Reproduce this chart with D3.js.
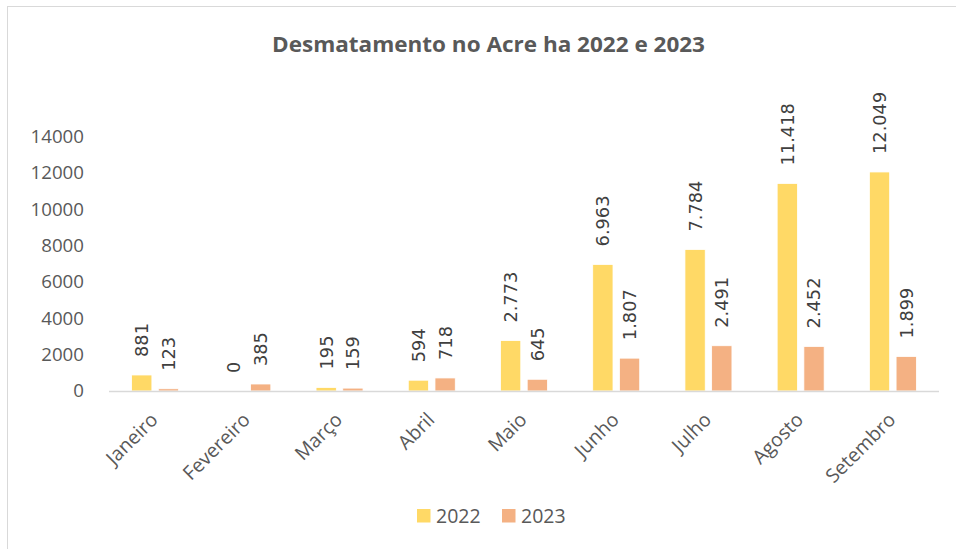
<!DOCTYPE html>
<html>
<head>
<meta charset="utf-8">
<script src="https://cdn.jsdelivr.net/npm/d3@7"></script>
<style>
    body { margin: 0; background: #fff; }
    svg { display: block; }
</style>
</head>
<body>
<svg id="chart" width="956" height="549"></svg>
<script>
var months = ["Janeiro", "Fevereiro", "Março", "Abril", "Maio", "Junho", "Julho", "Agosto", "Setembro"];
var series = ["2022", "2023"];
var values2022 = [881, 0, 195, 594, 2773, 6963, 7784, 11418, 12049];
var values2023 = [123, 385, 159, 718, 645, 1807, 2491, 2452, 1899];
var yTicks = [0, 2000, 4000, 6000, 8000, 10000, 12000, 14000];
var colors = {"2022": "#FFD966", "2023": "#F4B183"};

var svg = d3.select("#chart");

var rows = months.map(function (m, i) {
    return {month: m, values: [
        {key: "2022", value: values2022[i]},
        {key: "2023", value: values2023[i]}
    ]};
});

var ptBR = d3.formatLocale({decimal: ",", thousands: ".", grouping: [3], currency: ["R$", ""]});
var fmt = ptBR.format(",d");

// chart border
svg.append("rect")
    .attr("x", 7.5).attr("y", 6.5)
    .attr("width", 1000).attr("height", 600)
    .attr("fill", "none")
    .attr("stroke", "#d9d9d9");

svg.append("text")
    .attr("x", 488.5).attr("y", 52)
    .attr("text-anchor", "middle")
    .attr("textLength", 433)
    .attr("lengthAdjust", "spacingAndGlyphs")
    .style("font-family", "'Open Sans'")
    .style("font-weight", 700)
    .style("font-size", "21px")
    .style("fill", "#595959")
    .text("Desmatamento no Acre ha 2022 e 2023");

var x0 = d3.scaleBand().domain(months).range([109, 939]);
var x1 = d3.scaleBand().domain(series).range([22.6, 69.6]).paddingInner(0.24);
var y = d3.scaleLinear().domain([0, 14000]).range([391, 136.5]);

// y axis labels
var yAxis = svg.append("g")
    .attr("transform", "translate(84,0)")
    .call(d3.axisLeft(y).tickValues(yTicks).tickSize(0).tickPadding(0).tickFormat(d3.format("d")));
yAxis.select(".domain").remove();
yAxis.selectAll("text")
    .style("font-family", "'Open Sans'")
    .style("font-size", "18.7px")
    .style("fill", "#595959");

var groups = svg.append("g")
    .selectAll("g")
    .data(rows)
    .enter().append("g")
    .attr("transform", function (d) { return "translate(" + x0(d.month) + ",0)"; });

groups.selectAll("rect")
    .data(function (d) { return d.values; })
    .enter().append("rect")
    .attr("x", function (d) { return x1(d.key); })
    .attr("width", x1.bandwidth())
    .attr("y", function (d) { return y(d.value); })
    .attr("height", function (d) { return y(0) - y(d.value); })
    .attr("fill", function (d) { return colors[d.key]; })
    .attr("stroke", "#fff")
    .attr("stroke-width", 0.8);

groups.selectAll("text")
    .data(function (d) { return d.values; })
    .enter().append("text")
    .attr("transform", function (d) {
        return "translate(" + (x1(d.key) + x1.bandwidth() / 2) + "," + (y(d.value) - 18) + ") rotate(-90)";
    })
    .attr("dy", "0.36em")
    .attr("text-anchor", "start")
    .style("font-family", "'DejaVu Sans'")
    .style("font-size", "17.8px")
    .style("fill", "#404040")
    .text(function (d) { return fmt(d.value); });

// category axis
svg.append("line")
    .attr("x1", 109).attr("x2", 939)
    .attr("y1", y(0) + 0.5).attr("y2", y(0) + 0.5)
    .attr("stroke", "#d9d9d9")
    .attr("stroke-width", 1.5);

svg.append("g")
    .selectAll("text")
    .data(months)
    .enter().append("text")
    .attr("transform", function (d) {
        return "translate(" + (x0(d) + x0.bandwidth() / 2 + 4) + ",421) rotate(-45)";
    })
    .attr("text-anchor", "end")
    .style("font-family", "'Open Sans'")
    .style("font-size", "19.5px")
    .style("fill", "#595959")
    .text(function (d) { return d; });

// legend
var legend = svg.append("g")
    .selectAll("g")
    .data(series)
    .enter().append("g")
    .attr("transform", function (d, i) { return "translate(" + (417 + i * 85) + ",509)"; });

legend.append("rect")
    .attr("width", 13.5).attr("height", 13.5)
    .attr("fill", function (d) { return colors[d]; });

legend.append("text")
    .attr("x", 19).attr("y", 7)
    .attr("dy", "0.36em")
    .style("font-family", "'Open Sans'")
    .style("font-size", "19.5px")
    .style("fill", "#595959")
    .text(function (d) { return d; });
</script>
</body>
</html>
